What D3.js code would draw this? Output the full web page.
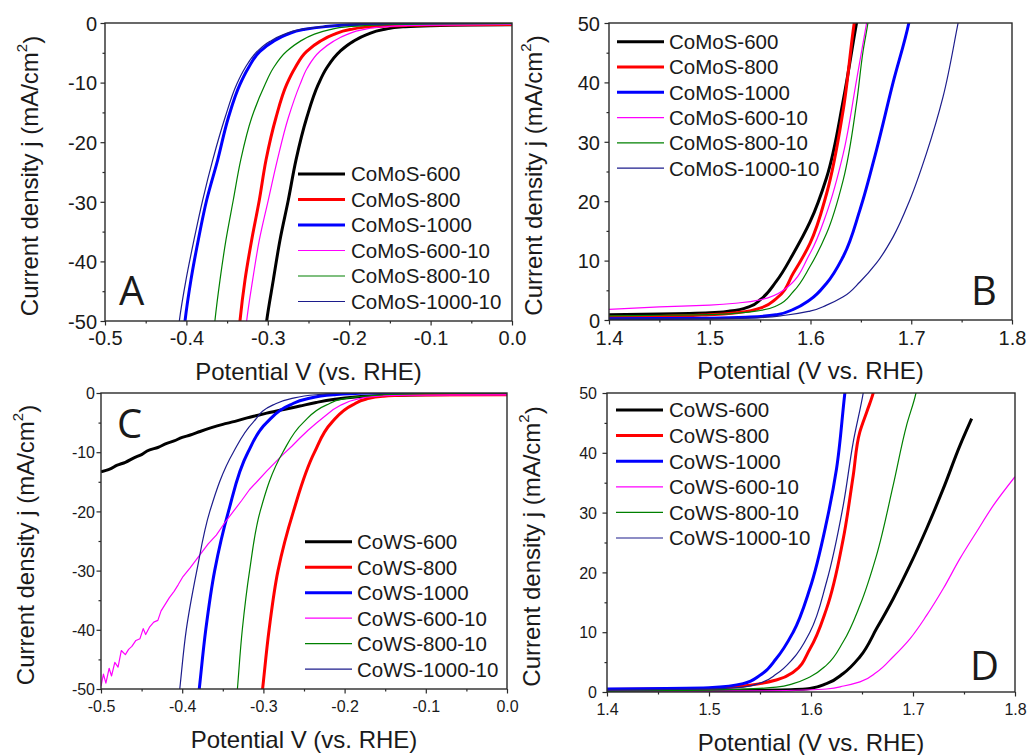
<!DOCTYPE html>
<html>
<head>
<meta charset="utf-8">
<script src="https://cdn.jsdelivr.net/npm/d3@7"></script>
<style>
  body { margin: 0; background: #fff; }
  svg text { font-family: "Liberation Sans", Arial, sans-serif; fill: #1a1a1a; }
  .letter { font-family: "Open Sans", "Noto Sans", sans-serif; }
</style>
</head>
<body>
<svg id="fig" width="1027" height="755"></svg>
<script>
// ---------- series names ----------
const moNames = ["CoMoS-600", "CoMoS-800", "CoMoS-1000", "CoMoS-600-10", "CoMoS-800-10", "CoMoS-1000-10"];
const wsNames = ["CoWS-600", "CoWS-800", "CoWS-1000", "CoWS-600-10", "CoWS-800-10", "CoWS-1000-10"];

// ---------- tick values ----------
const herMajorX = [-0.5, -0.4, -0.3, -0.2, -0.1, 0.0];
const herMinorX = [-0.45, -0.35, -0.25, -0.15, -0.05];
const herMajorY = [-50, -40, -30, -20, -10, 0];
const herMinorY = [-45, -35, -25, -15, -5];
const oerMajorX = [1.4, 1.5, 1.6, 1.7, 1.8];
const oerMinorX = [1.45, 1.55, 1.65, 1.75];
const oerMajorY = [0, 10, 20, 30, 40, 50];
const oerMinorY = [5, 15, 25, 35, 45];

// ---------- A: CoMoS HER, [potential V, j mA/cm2] ----------
const aMo600 = [[-0.306,-56],[-0.3014,-50],[-0.2932,-43.1],[-0.285,-36.4],[-0.2748,-29.7],[-0.2654,-23],[-0.2522,-15.9],[-0.238,-10.3],[-0.2277,-7.55],[-0.2113,-4.75],[-0.195,-3.08],[-0.1785,-1.96],[-0.158,-1.1],[-0.134,-0.65],[-0.1,-0.45],[-0.05,-0.35],[0,-0.3]];
const aMo800 = [[-0.338,-56],[-0.3342,-50],[-0.328,-43.1],[-0.3198,-36.4],[-0.3104,-29.7],[-0.3022,-23],[-0.29,-15.9],[-0.2768,-10.3],[-0.2666,-7.55],[-0.2522,-4.75],[-0.2359,-3.08],[-0.2195,-1.96],[-0.199,-1.1],[-0.1744,-0.65],[-0.13,-0.4],[-0.07,-0.3],[0,-0.25]];
const aMo1000 = [[-0.406,-56],[-0.4017,-50],[-0.3944,-43.1],[-0.3854,-36.4],[-0.3751,-29.7],[-0.3616,-23],[-0.3485,-15.9],[-0.3342,-10.3],[-0.3239,-7.55],[-0.3096,-4.75],[-0.2932,-3.08],[-0.2768,-1.96],[-0.2564,-1.1],[-0.2318,-0.65],[-0.19,-0.25],[-0.12,-0.05],[0,0.05]];
const aMo600_10 = [[-0.33,-56],[-0.326,-50],[-0.3186,-43.1],[-0.3104,-36.4],[-0.2994,-29.7],[-0.2883,-23],[-0.2748,-15.9],[-0.2604,-10.3],[-0.2515,-7.55],[-0.2359,-4.75],[-0.2195,-3.08],[-0.2031,-1.96],[-0.1827,-1.1],[-0.158,-0.65],[-0.12,-0.4],[-0.06,-0.3],[0,-0.25]];
const aMo800_10 = [[-0.369,-56],[-0.365,-50],[-0.3587,-43.1],[-0.3514,-36.4],[-0.3424,-29.7],[-0.3333,-23],[-0.3198,-15.9],[-0.3034,-10.3],[-0.2932,-7.55],[-0.2768,-4.75],[-0.2604,-3.08],[-0.2441,-1.96],[-0.2236,-1.1],[-0.2031,-0.65],[-0.16,-0.3],[-0.1,-0.15],[0,-0.1]];
const aMo1000_10 = [[-0.413,-56],[-0.4087,-50],[-0.4005,-43.1],[-0.3907,-36.4],[-0.38,-29.7],[-0.3677,-23],[-0.3526,-15.9],[-0.3383,-10.3],[-0.328,-7.55],[-0.3129,-4.75],[-0.2973,-3.08],[-0.2809,-1.96],[-0.2605,-1.1],[-0.2359,-0.65],[-0.19,-0.25],[-0.12,-0.05],[0,0.1]];

// ---------- B: CoMoS OER ----------
const bMo600 = [[1.4,0.9],[1.45,1.0],[1.5,1.2],[1.52,1.5],[1.54,2.3],[1.55,3.4],[1.566,6.5],[1.583,11.2],[1.5995,16.5],[1.616,24],[1.6325,37],[1.6457,50],[1.65,54]];
const bMo800 = [[1.4,0.5],[1.45,0.6],[1.5,0.9],[1.53,1.3],[1.55,2.0],[1.566,3.6],[1.583,7.9],[1.5995,12.9],[1.616,21.3],[1.6325,35.4],[1.6434,50],[1.647,54]];
const bMo1000 = [[1.4,0.2],[1.5,0.3],[1.54,0.5],[1.5665,0.9],[1.583,1.8],[1.5995,3.4],[1.616,6.2],[1.6325,10.7],[1.649,18.5],[1.6656,28.7],[1.682,40],[1.6976,50],[1.701,53]];
const bMo600_10 = [[1.4,1.8],[1.45,2.2],[1.5,2.5],[1.53,2.9],[1.55,3.4],[1.573,5],[1.5995,11.2],[1.616,18],[1.6325,28],[1.6457,40.4],[1.6557,50],[1.66,54]];
const bMo800_10 = [[1.4,0.7],[1.45,0.8],[1.5,0.9],[1.53,1.2],[1.55,1.6],[1.5665,2.4],[1.583,4.8],[1.5995,9],[1.616,14.6],[1.6325,23.6],[1.6457,36.5],[1.6524,45.5],[1.657,50],[1.66,54]];
const bMo1000_10 = [[1.4,0.2],[1.5,0.25],[1.55,0.4],[1.575,0.8],[1.5995,1.5],[1.616,2.5],[1.6325,3.9],[1.649,6.4],[1.6656,9.6],[1.682,14],[1.6986,20.2],[1.715,28],[1.7316,37.6],[1.7465,50],[1.75,53]];

// ---------- C: CoWS HER ----------
const cWs600 = [[-0.5,-13.3],[-0.49,-12.9],[-0.48,-12.2],[-0.47,-11.7],[-0.46,-11],[-0.45,-10.4],[-0.44,-9.6],[-0.43,-9.2],[-0.419,-8.5],[-0.41,-8.1],[-0.4,-7.5],[-0.39,-7.1],[-0.378,-6.5],[-0.365,-5.9],[-0.35,-5.3],[-0.335,-4.8],[-0.32,-4.2],[-0.308,-3.8],[-0.296,-3.4],[-0.275,-2.8],[-0.255,-2.2],[-0.235,-1.6],[-0.214,-1.1],[-0.19,-0.7],[-0.173,-0.55],[-0.14,-0.4],[-0.1,-0.3],[-0.05,-0.25],[0,-0.2]];
const cWs800 = [[-0.305,-55],[-0.301,-50],[-0.293,-40],[-0.282,-30],[-0.263,-20],[-0.237,-10],[-0.216,-5],[-0.19,-2],[-0.173,-1],[-0.153,-0.55],[-0.12,-0.35],[0,-0.3]];
const cWs1000 = [[-0.383,-55],[-0.379,-50],[-0.371,-40],[-0.36,-30],[-0.343,-20],[-0.319,-10],[-0.296,-5],[-0.267,-2],[-0.247,-1],[-0.214,-0.3],[-0.17,0],[0,0.2]];
const cWs600_10 = [[-0.5,-49.5],[-0.497,-47.5],[-0.494,-49],[-0.49,-46.5],[-0.487,-47.8],[-0.483,-45.5],[-0.479,-46.3],[-0.475,-43.5],[-0.47,-44.2],[-0.466,-43.3],[-0.462,-42.8],[-0.457,-41.8],[-0.452,-41.5],[-0.448,-39.8],[-0.445,-40.8],[-0.44,-39.5],[-0.435,-38.7],[-0.43,-38.4],[-0.426,-36.8],[-0.42,-35.5],[-0.416,-34.6],[-0.41,-33.5],[-0.405,-32.4],[-0.399,-31],[-0.39,-29.5],[-0.378,-27.3],[-0.368,-25.5],[-0.358,-24],[-0.348,-22],[-0.337,-20],[-0.327,-18.2],[-0.317,-16.3],[-0.306,-14.7],[-0.296,-13.2],[-0.286,-11.8],[-0.276,-10.4],[-0.265,-9],[-0.255,-7.6],[-0.245,-6.3],[-0.235,-5.1],[-0.224,-3.9],[-0.214,-2.8],[-0.204,-2],[-0.194,-1.4],[-0.183,-1],[-0.173,-0.7],[-0.15,-0.45],[-0.12,-0.35],[0,-0.3]];
const cWs800_10 = [[-0.335,-55],[-0.332,-50],[-0.326,-40],[-0.317,-30],[-0.304,-20],[-0.276,-10],[-0.251,-5],[-0.222,-2],[-0.202,-1],[-0.153,-0.3],[-0.1,-0.1],[0,0]];
const cWs1000_10 = [[-0.407,-55],[-0.403,-50],[-0.395,-40],[-0.382,-30],[-0.366,-20],[-0.337,-10],[-0.313,-5],[-0.288,-2],[-0.267,-1],[-0.235,-0.3],[-0.19,0.05],[0,0.2]];

// ---------- D: CoWS OER ----------
const dWs600 = [[1.4,0.1],[1.5,0.2],[1.57,0.35],[1.599,0.6],[1.6152,1.4],[1.6316,3.1],[1.648,5.9],[1.6643,10.6],[1.6806,15.6],[1.697,21.2],[1.7133,27.3],[1.7297,34],[1.746,41.2],[1.7575,45.7]];
const dWs800 = [[1.4,0.4],[1.5,0.6],[1.5334,1],[1.55,1.4],[1.566,2],[1.5825,3.3],[1.5989,7.2],[1.6152,13.9],[1.6316,25.6],[1.6414,36.2],[1.6479,43.5],[1.655,47],[1.661,50],[1.664,53]];
const dWs1000 = [[1.4,0.5],[1.5,0.7],[1.5334,1.4],[1.55,2.8],[1.566,5.6],[1.5825,10],[1.5989,17.3],[1.6152,28.4],[1.625,37.3],[1.6332,50],[1.636,54]];
const dWs600_10 = [[1.4,0.1],[1.55,0.2],[1.6152,0.5],[1.632,1],[1.648,1.7],[1.6643,3.3],[1.6806,5.9],[1.697,8.9],[1.7133,12.8],[1.7297,17.3],[1.746,22.3],[1.7624,26.8],[1.7788,31.2],[1.8,36]];
const dWs800_10 = [[1.4,0.1],[1.5,0.3],[1.566,0.8],[1.5825,1.4],[1.5989,2.5],[1.6152,4.5],[1.6316,8.4],[1.648,14.5],[1.6643,22.9],[1.6806,34.6],[1.6937,44.6],[1.7029,50],[1.706,53]];
const dWs1000_10 = [[1.4,0.3],[1.5,0.5],[1.5334,0.8],[1.55,1.5],[1.566,3],[1.5825,5.6],[1.5989,10],[1.6152,18.4],[1.6316,31.2],[1.6414,41.8],[1.6512,50],[1.654,53]];

// ---------- styling shared by all panels ----------
const lineColors = ["#000000", "#ff0000", "#0000ff", "#ff00ff", "#008000", "#1c1c8c"];
const lineWidths = [3, 3, 3, 1.2, 1.2, 1.2];
const axisColor = "#2a2a2a";
const fmt1 = d => d3.format(".1f")(d).replace("\u2212", "-");
const fmt0 = d => d3.format("d")(d).replace("\u2212", "-");

const svg = d3.select("#fig");

const panels = [
  { key: "A", box: [105, 512, 23, 321], xDom: [-0.5, 0], yDom: [-50, 0],
    xMaj: herMajorX, xMin: herMinorX, yMaj: herMajorY, yMin: herMinorY,
    series: [aMo600, aMo800, aMo1000, aMo600_10, aMo800_10, aMo1000_10], names: moNames,
    xTitle: "Potential V (vs. RHE)", tickFont: 20, xLabOff: 24, yLabGap: 8,
    legend: { lx: 298, tx: 351, y: 174, dy: 25.5 }, letter: [119, 305] },
  { key: "B", box: [609, 1012, 23, 320], xDom: [1.4, 1.8], yDom: [0, 50],
    xMaj: oerMajorX, xMin: oerMinorX, yMaj: oerMajorY, yMin: oerMinorY,
    series: [bMo600, bMo800, bMo1000, bMo600_10, bMo800_10, bMo1000_10], names: moNames,
    xTitle: "Potential (V vs. RHE)", tickFont: 20, xLabOff: 25, yLabGap: 9,
    legend: { lx: 617, tx: 669, y: 41.7, dy: 25.3 }, letter: [971, 305] },
  { key: "C", box: [101, 507, 393, 689], xDom: [-0.5, 0], yDom: [-50, 0],
    xMaj: herMajorX, xMin: herMinorX, yMaj: herMajorY, yMin: herMinorY,
    series: [cWs600, cWs800, cWs1000, cWs600_10, cWs800_10, cWs1000_10], names: wsNames,
    xTitle: "Potential V (vs. RHE)", tickFont: 16, xLabOff: 23, yLabGap: 6,
    legend: { lx: 305, tx: 357, y: 541.7, dy: 25.5 }, letter: [117, 438], linearIdx: [3] },
  { key: "D", box: [607, 1015, 393, 692], xDom: [1.4, 1.8], yDom: [0, 50],
    xMaj: oerMajorX, xMin: oerMinorX, yMaj: oerMajorY, yMin: oerMinorY,
    series: [dWs600, dWs800, dWs1000, dWs600_10, dWs800_10, dWs1000_10], names: wsNames,
    xTitle: "Potential (V vs. RHE)", tickFont: 16, xLabOff: 23, yLabGap: 10,
    legend: { lx: 616, tx: 669, y: 410, dy: 25.6 }, letter: [970, 680] }
];

panels.forEach(p => {
  const [x0, x1, y0, y1] = p.box;
  const x = d3.scaleLinear().domain(p.xDom).range([x0, x1]);
  const y = d3.scaleLinear().domain(p.yDom).range([y1, y0]);
  const g = svg.append("g");

  svg.append("clipPath").attr("id", "clip" + p.key)
    .append("rect").attr("x", x0).attr("y", y0).attr("width", x1 - x0).attr("height", y1 - y0);

  // polarization curves: current density rises monotonically, so interpolate along j
  const smooth = d3.line().x(d => x(d[0])).y(d => y(d[1])).curve(d3.curveMonotoneY);
  const straight = d3.line().x(d => x(d[0])).y(d => y(d[1]));
  const curves = g.append("g").attr("clip-path", `url(#clip${p.key})`);
  p.series.forEach((s, i) => {
    const useLinear = p.linearIdx && p.linearIdx.includes(i);
    curves.append("path")
      .attr("d", (useLinear ? straight : smooth)(s))
      .attr("fill", "none")
      .attr("stroke", lineColors[i])
      .attr("stroke-width", lineWidths[i])
      .attr("stroke-linejoin", "round");
  });

  // axes: minor and major ticks pointing outward
  const styleAxis = sel => {
    sel.select(".domain").remove();
    sel.selectAll("line").attr("stroke", axisColor).attr("stroke-width", 1.2);
  };
  g.append("g").attr("transform", `translate(0,${y1})`)
    .call(d3.axisBottom(x).tickValues(p.xMin).tickSize(2.5).tickFormat(""))
    .call(styleAxis);
  const xa = g.append("g").attr("transform", `translate(0,${y1})`)
    .call(d3.axisBottom(x).tickValues(p.xMaj).tickSize(4.5).tickFormat(fmt1))
    .call(styleAxis);
  xa.selectAll("text").attr("y", p.xLabOff).attr("dy", 0).attr("font-size", p.tickFont);

  g.append("g").attr("transform", `translate(${x0},0)`)
    .call(d3.axisLeft(y).tickValues(p.yMin).tickSize(2.5).tickFormat(""))
    .call(styleAxis);
  const ya = g.append("g").attr("transform", `translate(${x0},0)`)
    .call(d3.axisLeft(y).tickValues(p.yMaj).tickSize(4.5).tickFormat(fmt0))
    .call(styleAxis);
  ya.selectAll("text").attr("x", -p.yLabGap).attr("dy", "0.36em").attr("font-size", p.tickFont);

  // frame
  g.append("rect").attr("x", x0).attr("y", y0).attr("width", x1 - x0).attr("height", y1 - y0)
    .attr("fill", "none").attr("stroke", axisColor).attr("stroke-width", 1.4);

  // axis titles
  g.append("text").attr("x", (x0 + x1) / 2).attr("y", y1 + 59)
    .attr("text-anchor", "middle").attr("font-size", 24).text(p.xTitle);
  const yt = g.append("text")
    .attr("transform", `translate(${x0 - 75},${(y0 + y1) / 2 + 4}) rotate(-90)`)
    .attr("text-anchor", "middle").attr("dy", "0.35em").attr("font-size", 24);
  yt.append("tspan").text("Current density j (mA/cm");
  yt.append("tspan").attr("font-size", 15).attr("dy", "-0.75em").text("2");
  yt.append("tspan").attr("dy", "0.52em").text(")");

  // legend
  const lg = g.append("g");
  p.names.forEach((n, i) => {
    const ly = p.legend.y + i * p.legend.dy;
    lg.append("line").attr("x1", p.legend.lx).attr("x2", p.legend.lx + 47)
      .attr("y1", ly).attr("y2", ly)
      .attr("stroke", lineColors[i]).attr("stroke-width", lineWidths[i]);
    lg.append("text").attr("x", p.legend.tx).attr("y", ly).attr("dy", "0.36em")
      .attr("font-size", 20.5).text(n);
  });

  // panel letter
  g.append("text").attr("class", "letter").attr("x", p.letter[0]).attr("y", p.letter[1])
    .attr("font-size", 40).text(p.key);
});
</script>
</body>
</html>
